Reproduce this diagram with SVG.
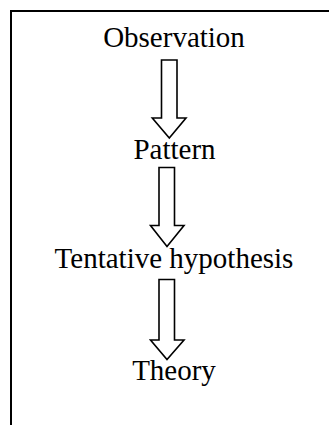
<svg xmlns="http://www.w3.org/2000/svg" width="329" height="425" viewBox="0 0 329 425">
<style>
.lbl{font-family:"Liberation Serif","Times New Roman",serif;font-size:29px;fill:#000;text-anchor:middle}
.arrow{fill:#fff;stroke:#000;stroke-width:1.6;stroke-linejoin:miter}
.frame{fill:none;stroke:#000;stroke-width:2}
</style>
<rect width="329" height="425" fill="#fff"/>
<path class="frame" d="M11,425 V11 H329"/>
<g id="observation"><text class="lbl" x="174" y="47">Observation</text></g>
<g id="pattern"><text class="lbl" x="174.5" y="158.5">Pattern</text></g>
<g id="tentative-hypothesis"><text class="lbl" x="174" y="268">Tentative hypothesis</text></g>
<g id="theory"><text class="lbl" x="174" y="380">Theory</text></g>
<g id="connectors">
<path class="arrow" d="M161.5,60 H177 V118 H186 L169.3,138 L152.3,118 H161.5 Z"/>
<path class="arrow" d="M159,167.5 H174.5 V225.5 H184 L167,246.5 L150.5,225.5 H159 Z"/>
<path class="arrow" d="M159,279.5 H174.5 V340 H184 L167,359.5 L150.5,340 H159 Z"/>
</g>
</svg>
